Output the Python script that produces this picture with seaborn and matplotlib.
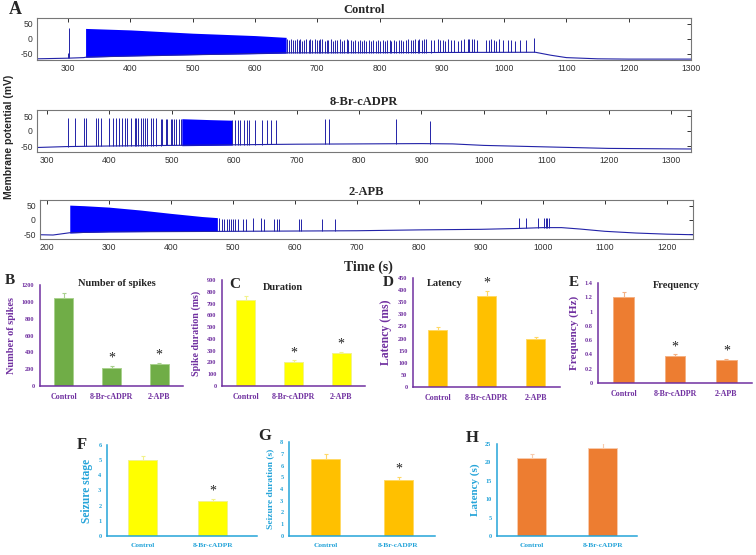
import matplotlib
matplotlib.use('Agg')
import matplotlib.pyplot as plt
import seaborn as sns
import numpy as np

# ---------------- panel A : membrane potential traces ----------------
# Control
ctrl_base_t = [250, 298, 325, 330, 650, 1050, 1075, 1100, 1150, 1200, 1300]
ctrl_base_v = [-67, -65, -63, -61, -47, -45, -55, -63, -67, -68, -68]
ctrl_dense_t = [328, 400, 500, 600, 650]
ctrl_dense_top = [35, 30, 19, 11, 5]
ctrl_dense_bot = [-62, -57, -53, -50, -48]
ctrl_spk_t = [300, 302,
              652, 655, 658, 661, 664, 667, 670, 673, 676, 679, 682, 686, 689, 692, 696, 699,
              702, 705, 708, 712, 715, 718, 722, 725, 729, 732, 736, 739, 743, 747, 750, 754, 758,
              761, 765, 768, 772, 775, 779, 783, 786, 790, 794, 797, 801, 805, 808, 812, 816,
              819, 823, 827, 831, 834, 838, 842, 846, 850, 853, 857, 861, 864, 868, 871, 875,
              883, 887, 894, 897, 902, 905, 910, 915, 920, 926, 931, 936, 942, 944, 948, 952,
              957, 971, 975, 979, 983, 987, 991, 998, 1006, 1011, 1018, 1025, 1035, 1048]
ctrl_spk_v = [-48, 35,
              -2, -4, -1, -5, -3, 0, -4, -2, -6, -3, -1, -5, -2, -4, -1, -3,
              -5, -2, -1, -6, -3, -4, -2, -6, -3, -5, -2, -6, -4, -1, -5, -3, -6,
              -4, -7, -5, -6, -3, -7, -5, -6, -4, -7, -5, -6, -4, -7, -5, -3,
              -6, -4, -7, -5, -3, -6, -4, -2, -5, -3, -1, -4, -2, -5, -1, 0,
              -3, -5, -2, -4, -3, -6, -2, -5, -4, -6, -3, -1, 0, -2, 1, -1,
              -4, -5, -3, -1, -4, -6, -2, -5, -4, -5, -6, -5, -4, 2]

# 8-Br-cADPR
br_base_t = [284, 330, 400, 500, 600, 700, 800, 900, 950, 1000, 1100, 1200, 1332]
br_base_v = [-55, -52, -50, -48, -46, -44, -43, -42, -43, -48, -53, -58, -60]
br_dense_t = [516, 560, 596]
br_dense_top = [41, 38, 36]
br_dense_bot = [-49, -48, -47]
br_spk_t = [334, 345, 359, 362, 378, 382, 386, 399, 406, 411, 415, 420, 425, 429, 435, 441,
            443, 446, 450, 454, 457, 461, 467, 470, 474, 482, 485, 490, 493, 498, 500, 503,
            507, 511, 514, 597, 602, 606, 610, 615, 620, 624, 633, 644, 652, 659, 667,
            745, 752, 860, 913]
br_spk_v = [45, 45, 45, 45, 44, 44, 44, 44, 43, 43, 43, 43, 43, 42, 42, 42,
            42, 42, 42, 42, 42, 42, 42, 42, 42, 41, 41, 41, 41, 40, 40, 40,
            40, 40, 40, 36, 36, 36, 36, 36, 36, 36, 36, 36, 36, 36, 36,
            40, 40, 39, 34]

# 2-APB
apb_base_t = [189, 210, 237, 300, 500, 700, 800, 900, 960, 1000, 1030, 1060, 1100, 1150, 1200, 1242]
apb_base_v = [-52, -53, -45, -42, -40, -38, -35, -33, -30, -27, -27, -32, -40, -46, -50, -52]
apb_dense_t = [237, 260, 300, 350, 400, 450, 475]
apb_dense_top = [52, 50, 45, 35, 23, 12, 8]
apb_dense_bot = [-46, -44, -42, -41, -40, -40, -40]
apb_spk_t = [478, 482, 486, 490, 494, 497, 500, 504, 509, 516, 521, 532, 545, 550, 567, 571,
             574, 606, 610, 644, 665, 962, 973, 992, 1002, 1005, 1007, 1010]
apb_spk_v = [6, 5, 4, 3, 5, 2, 4, 3, 5, 4, 5, 6, 6, 5, 5, 5,
             4, 4, 5, 5, 5, 6, 6, 6, 7, 7, 7, 6]

# ---------------- panels B-H : bar charts ----------------
cats3 = ['Control', '8-Br-cADPR', '2-APB']
cats2 = ['Control', '8-Br-cADPR']
spikes_mean = [1051, 218, 258]
spikes_err = [53, 20, 16]
spikes_sig = [False, True, True]
dur_mean = [734, 206, 277]
dur_err = [34, 11, 12]
dur_sig = [False, True, True]
lat_mean = [235, 375, 200]
lat_err = [12, 21, 8]
lat_sig = [False, True, False]
freq_mean = [1.21, 0.38, 0.32]
freq_err = [0.06, 0.02, 0.02]
freq_sig = [False, True, True]
stage_mean = [5.0, 2.3]
stage_err = [0.26, 0.15]
stage_sig = [False, True]
sdur_mean = [6.53, 4.76]
sdur_err = [0.42, 0.28]
sdur_sig = [False, True]
slat_mean = [21.2, 24.0]
slat_err = [1.2, 1.3]
slat_sig = [False, False]

W, H = 756, 555
sns.set_style('white')
plt.rcParams['font.family'] = ['Liberation Serif', 'DejaVu Serif']
plt.rcParams['axes.unicode_minus'] = False
fig = plt.figure(figsize=(W / 100, H / 100), dpi=100)


def add_ax(l, r, t, b):
    return fig.add_axes([l / W, 1 - b / H, (r - l) / W, (b - t) / H])


navy = '#2323a8'
sans = ['Liberation Sans', 'DejaVu Sans']


def trace(box, base_t, base_v, dense_t, dense_top, dense_bot, spk_t, spk_v, xlim, ylim, xticks, title):
    ax = add_ax(*box)
    ax.plot(base_t, base_v, color=navy, lw=0.8)
    ax.fill_between(dense_t, dense_bot, dense_top, color='#0000ff', lw=0)
    bottoms = np.interp(spk_t, base_t, base_v)
    ax.vlines(spk_t, bottoms, spk_v, color=navy, lw=0.7)
    ax.set_xlim(*xlim)
    ax.set_ylim(*ylim)
    ax.set_xticks(xticks)
    ax.set_yticks([-50, 0, 50])
    ax.tick_params(direction='in', top=True, right=True, length=3, width=0.7,
                   labelsize=6.2, colors='#333333', pad=3)
    for lab in ax.get_xticklabels() + ax.get_yticklabels():
        lab.set_family(sans)
    for s in ax.spines.values():
        s.set_color('#777777')
        s.set_linewidth(0.8)
    ax.set_title(title, fontsize=9, fontweight='bold', pad=3.5)
    return ax


trace((37, 691, 18, 60), ctrl_base_t, ctrl_base_v, ctrl_dense_t, ctrl_dense_top, ctrl_dense_bot,
      ctrl_spk_t, ctrl_spk_v, (250, 1300), (-71, 70), range(300, 1301, 100), 'Control')
trace((37, 691, 110, 152), br_base_t, br_base_v, br_dense_t, br_dense_top, br_dense_bot,
      br_spk_t, br_spk_v, (284, 1332), (-70, 70), range(300, 1301, 100), '8-Br-cADPR')
trace((40, 693, 200, 239), apb_base_t, apb_base_v, apb_dense_t, apb_dense_top, apb_dense_bot,
      apb_spk_t, apb_spk_v, (189, 1242), (-67, 70), range(200, 1201, 100), '2-APB')

fig.text(368 / W, 1 - 267 / H, 'Time (s)', fontsize=10, fontweight='bold', ha='center', va='center')
fig.text(9 / W, 1 - 137 / H, 'Membrane potential (mV)', fontsize=7.5, fontweight='bold',
         rotation=90, ha='center', va='center', family=sans)

purple = '#7030a0'
cyan = '#25a4d9'


def bars(box, cats, mean, err, sig, ymax, yticks, ytl, col, edge, axcol, ylabel, ylsize,
         title=None, tpos=None, xlim=None, width=0.4, xfs=5.8, yfs=4.5):
    ax = add_ax(*box)
    sns.barplot(x=cats, y=mean, color=col, saturation=1, width=width, errorbar=None,
                edgecolor=edge, linewidth=0.7, ax=ax)
    ax.errorbar(range(len(cats)), mean, yerr=[np.zeros(len(cats)), err], fmt='none',
                ecolor=edge, elinewidth=0.8, capsize=1.2, capthick=0.8)
    for i, s in enumerate(sig):
        if s:
            ax.text(i, mean[i] + err[i] + ymax * 0.01, '*', ha='center', va='bottom',
                    fontsize=10, color='#222222')
    ax.set_ylim(0, ymax)
    ax.set_xlim(*(xlim if xlim else (-0.5, len(cats) - 0.5)))
    ax.set_yticks(yticks)
    ax.set_yticklabels(ytl)
    sns.despine(ax=ax)
    for s in ('left', 'bottom'):
        ax.spines[s].set_color(axcol)
        ax.spines[s].set_linewidth(1.1)
    ax.tick_params(axis='y', direction='out', length=2, width=0.6, colors=axcol,
                   labelsize=yfs, pad=2)
    ax.tick_params(axis='x', length=0, colors=axcol, labelsize=xfs, pad=5)
    for lab in ax.get_xticklabels() + ax.get_yticklabels():
        lab.set_fontweight('bold')
    ax.set_ylabel(ylabel, fontsize=ylsize, fontweight='bold', color=axcol, labelpad=4)
    if title:
        fig.text(tpos[0] / W, 1 - tpos[1] / H, title, fontsize=7.5, fontweight='bold',
                 ha='center', va='center')
    return ax


bars((40, 183, 285, 386), cats3, spikes_mean, spikes_err, spikes_sig, 1200,
     range(0, 1201, 200), [str(v) for v in range(0, 1201, 200)], '#70ad47', '#a9d18e',
     purple, 'Number of spikes', 7.4, 'Number of spikes', (117, 284))
bars((222, 365, 280, 386), cats3, dur_mean, dur_err, dur_sig, 900,
     range(0, 901, 100), [str(v) for v in range(0, 901, 100)], '#ffff00', '#f2f28c',
     purple, 'Spike duration (ms)', 7.2, 'Duration', (283, 288))
bars((413, 560, 278, 387), cats3, lat_mean, lat_err, lat_sig, 450,
     range(0, 451, 50), [str(v) for v in range(0, 451, 50)], '#ffc000', '#ffd966',
     purple, 'Latency (ms)', 8.5, 'Latency', (445, 284))
bars((598, 752, 283, 383), cats3, freq_mean, freq_err, freq_sig, 1.4,
     [0, 0.2, 0.4, 0.6, 0.8, 1.0, 1.2, 1.4], ['0', '0.2', '0.4', '0.6', '0.8', '1', '1.2', '1.4'],
     '#ed7d31', '#f4b183', purple, 'Frequency (Hz)', 8, 'Frequency', (676, 285))

bars((107, 257, 445, 536), cats2, stage_mean, stage_err, stage_sig, 6,
     range(0, 7), [str(v) for v in range(0, 7)], '#ffff00', '#f2f28c',
     cyan, 'Seizure stage', 8.4, xlim=(-0.51, 1.63), width=0.41, xfs=5.3, yfs=4.5)
bars((289, 435, 442, 536), cats2, sdur_mean, sdur_err, sdur_sig, 8,
     range(0, 9), [str(v) for v in range(0, 9)], '#ffc000', '#ffd966',
     cyan, 'Seizure duration (s)', 6.8, xlim=(-0.5, 1.5), width=0.4, xfs=5.3, yfs=4.5)
bars((497, 637, 444, 536), cats2, slat_mean, slat_err, slat_sig, 25,
     range(0, 26, 5), [str(v) for v in range(0, 26, 5)], '#ed7d31', '#f8cbad',
     cyan, 'Latency (s)', 7.9, xlim=(-0.49, 1.48), width=0.41, xfs=5.3, yfs=4.5)

# panel letters
for letter, x, y, fs in [('A', 15, 10, 13), ('B', 10, 280, 11), ('C', 235, 284, 11),
                         ('D', 388, 283, 11), ('E', 574, 283, 11), ('F', 82, 445, 12),
                         ('G', 265, 436, 12), ('H', 472, 438, 12)]:
    fig.text(x / W, 1 - y / H, letter, fontsize=fs, fontweight='bold', ha='center', va='center')

fig.savefig('out.png', dpi=100)
